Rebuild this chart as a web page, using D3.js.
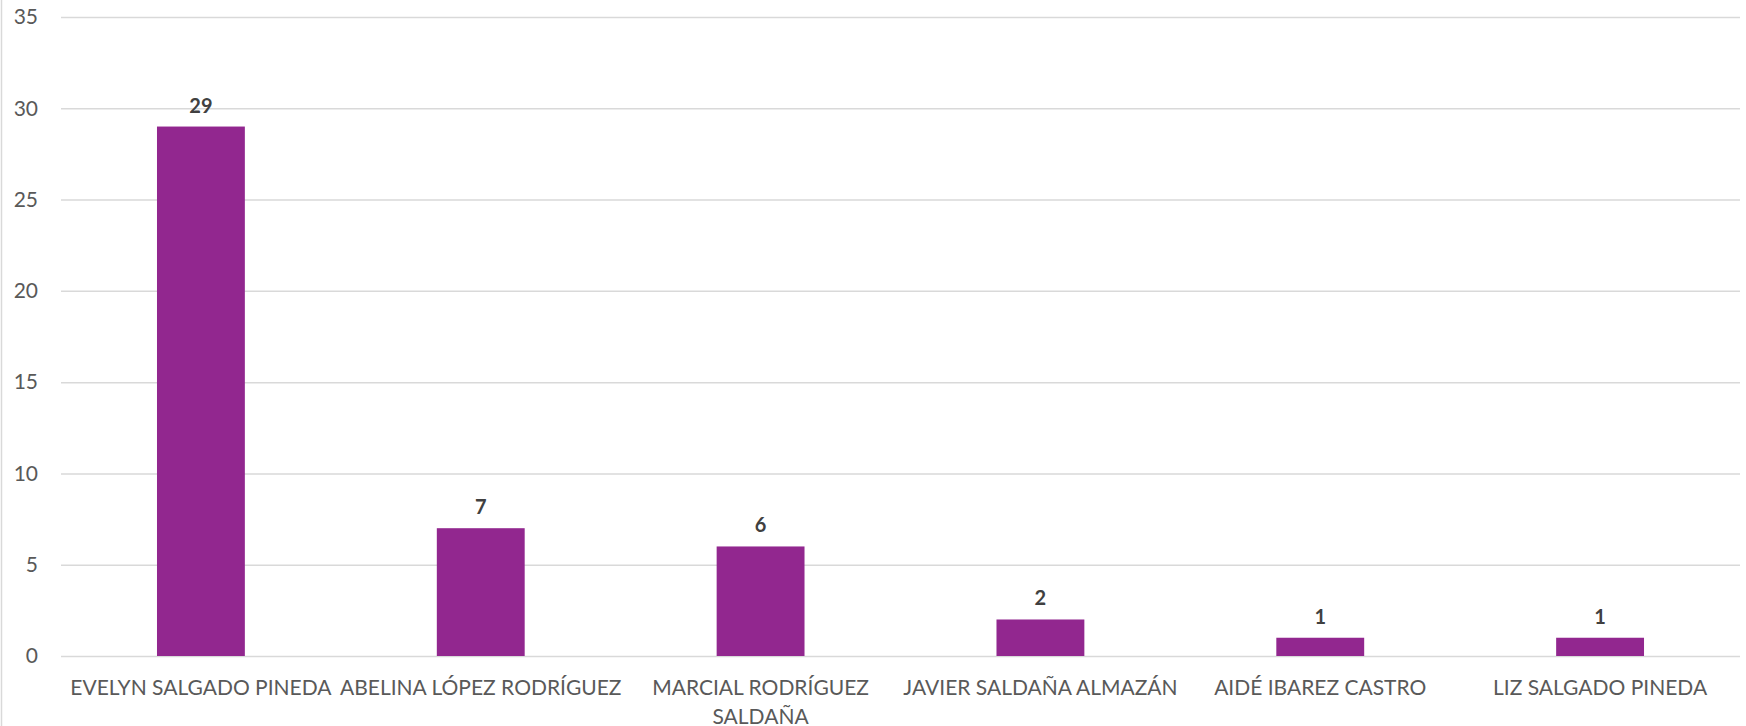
<!DOCTYPE html>
<html><head><meta charset="utf-8">
<script src="https://cdn.jsdelivr.net/npm/d3@7"></script>
<style>html,body{margin:0;padding:0;background:#fff;}svg{display:block;}</style>
</head><body>
<svg id="chart" width="1746" height="726"></svg>
<script>
const categories = ["EVELYN SALGADO PINEDA","ABELINA LÓPEZ RODRÍGUEZ","MARCIAL RODRÍGUEZ SALDAÑA","JAVIER SALDAÑA ALMAZÁN","AIDÉ IBAREZ CASTRO","LIZ SALGADO PINEDA"];
const values = [29,7,6,2,1,1];
const yTicks = [0,5,10,15,20,25,30,35];

const W = 1746, H = 726;
const margin = {left:61, right:6, top:17, bottom:70};
const svg = d3.select("#chart");
const font = "Lato, 'Open Sans', sans-serif";

const x = d3.scaleBand().domain(categories).range([margin.left, W - margin.right]).paddingInner(0.686).paddingOuter(0.343);
const y = d3.scaleLinear().domain([0,35]).range([H - margin.bottom, margin.top]);

// left frame line
svg.append("line").attr("x1",1.5).attr("x2",1.5).attr("y1",0).attr("y2",H).attr("stroke","#d9d9d9").attr("stroke-width",1.5);

// gridlines
const yAxis = d3.axisLeft(y).tickValues(yTicks).tickSize(-(W - margin.right - margin.left)).tickPadding(23);
const gy = svg.append("g").attr("transform",`translate(${margin.left},0)`).call(yAxis);
gy.select(".domain").remove();
gy.selectAll(".tick line").attr("stroke","#d9d9d9").attr("stroke-width",1.5);
gy.selectAll(".tick text").attr("fill","#595959").style("font-family",font).style("font-size","21px");

// bars
svg.append("g").selectAll("rect").data(values).join("rect")
  .attr("x",(d,i)=>x(categories[i]))
  .attr("width",x.bandwidth())
  .attr("y",d=>y(d))
  .attr("height",d=>y(0)-y(d))
  .attr("fill","#92278f");

// data labels
svg.append("g").selectAll("text").data(values).join("text")
  .attr("x",(d,i)=>x(categories[i])+x.bandwidth()/2)
  .attr("y",d=>y(d)-14)
  .attr("text-anchor","middle")
  .attr("fill","#404040")
  .style("font-family",font).style("font-size","20px").style("font-weight","bold")
  .text(d=>d);

// category labels with wrapping
const gx = svg.append("g");
categories.forEach((c,i)=>{
  const cx = x(c) + x.bandwidth()/2;
  const t = gx.append("text").attr("x",cx).attr("y",y(0)+39).attr("text-anchor","middle")
    .attr("fill","#595959").style("font-family",font).style("font-size","21px");
  const words = c.split(" ");
  let line = [], tspan = t.append("tspan").attr("x",cx).attr("dy",0);
  let ln = 0;
  const maxW = 282;
  words.forEach(w=>{
    line.push(w);
    tspan.text(line.join(" "));
    if (tspan.node().getComputedTextLength() > maxW && line.length>1){
      line.pop(); tspan.text(line.join(" "));
      line=[w]; ln++;
      tspan = t.append("tspan").attr("x",cx).attr("dy","1.4em").text(w);
    }
  });
});
</script>
</body></html>
